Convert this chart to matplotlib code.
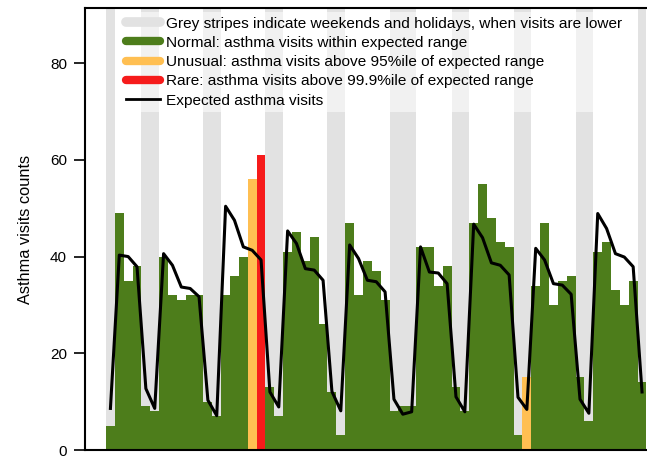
import matplotlib.pyplot as plt
from matplotlib.lines import Line2D
import numpy as np

# daily asthma visit counts
visits = [5, 49, 35, 38, 9, 8, 40, 32, 31, 32, 32, 10, 7, 32, 36, 40, 56, 61, 13, 7,
          41, 45, 39, 44, 26, 12, 3, 47, 32, 39, 37, 31, 8, 9, 9, 42, 42, 34, 38, 13,
          8, 47, 55, 48, 43, 42, 3, 15, 34, 47, 30, 35, 36, 15, 6, 41, 43, 33, 30, 35,
          14]

# expected visits from the model
expected = [8.6, 40.3, 40.0, 37.9, 12.7, 8.6, 40.6, 38.2, 33.7, 33.4, 31.7, 10.3, 7.1,
            50.4, 47.5, 42.0, 41.3, 39.3, 12.0, 8.9, 45.3, 42.7, 37.5, 37.2, 35.1, 12.1,
            8.1, 42.4, 39.6, 35.1, 34.8, 32.7, 10.5, 7.4, 7.9, 42.0, 36.8, 36.6, 34.4,
            11.0, 7.9, 46.7, 43.9, 38.7, 38.2, 36.2, 10.9, 8.4, 41.7, 39.3, 34.4, 34.1,
            32.2, 10.5, 7.6, 48.9, 45.8, 40.6, 39.9, 37.9, 12.0]

# weekends and holidays (day index)
off_days = [0, 4, 5, 11, 12, 18, 19, 25, 26, 32, 33, 34, 39, 40, 46, 47, 53, 54, 60]

# alert days
unusual_days = [16, 47]
rare_days = [17]

GREEN = "#4d7d1b"
ORANGE = "#ffbf52"
RED = "#f61b1b"
GREY = "#e2e2e2"

plt.rcParams['font.family'] = ['Liberation Sans', 'DejaVu Sans']

fig = plt.figure(figsize=(6.47, 4.58), dpi=100)
W, H = 647, 458
px = 8.86  # width of one day
x0, x1 = -2.87, 61.0
ax = fig.add_axes([85 / W, 8 / H, (x1 - x0) * px / W, 442 / H])

days = np.arange(len(visits))
colors = []
for d in days:
    if d in rare_days:
        colors.append(RED)
    elif d in unusual_days:
        colors.append(ORANGE)
    else:
        colors.append(GREEN)

for d in off_days:
    ax.axvspan(d - 0.5, d + 0.5, color=GREY, lw=0, zorder=0)

ax.bar(days, visits, width=1.0, color=colors, linewidth=0, zorder=2)
ax.plot(days, expected, color="black", lw=2.2, zorder=3)

ax.set_xlim(x0, x1)
ax.set_ylim(0, 91.4)
ax.set_xticks([])
ax.set_yticks([0, 20, 40, 60, 80])
ax.tick_params(axis='y', length=8, width=1.2, labelsize=11, pad=5)
for s in ax.spines.values():
    s.set_linewidth(1.5)
ax.set_ylabel("Asthma visits counts", fontsize=11.8, labelpad=12)

handles = [
    Line2D([], [], color=GREY, lw=7, solid_capstyle='round'),
    Line2D([], [], color=GREEN, lw=6, solid_capstyle='round'),
    Line2D([], [], color=ORANGE, lw=6, solid_capstyle='round'),
    Line2D([], [], color=RED, lw=6, solid_capstyle='round'),
    Line2D([], [], color="black", lw=2),
]
labels = [
    "Grey stripes indicate weekends and holidays, when visits are lower",
    "Normal: asthma visits within expected range",
    "Unusual: asthma visits above 95%ile of expected range",
    "Rare: asthma visits above 99.9%ile of expected range",
    "Expected asthma visits",
]
leg = ax.legend(handles, labels, loc='upper left',
                bbox_to_anchor=(121 / W, 1 - 12 / H), bbox_transform=fig.transFigure,
                fontsize=11.1, handlelength=2.2, handletextpad=0.45,
                labelspacing=0.34, borderpad=0.3, borderaxespad=0,
                frameon=True, fancybox=False, framealpha=0.55, edgecolor='none')
leg.set_zorder(5)

fig.savefig("out.png", dpi=100)
